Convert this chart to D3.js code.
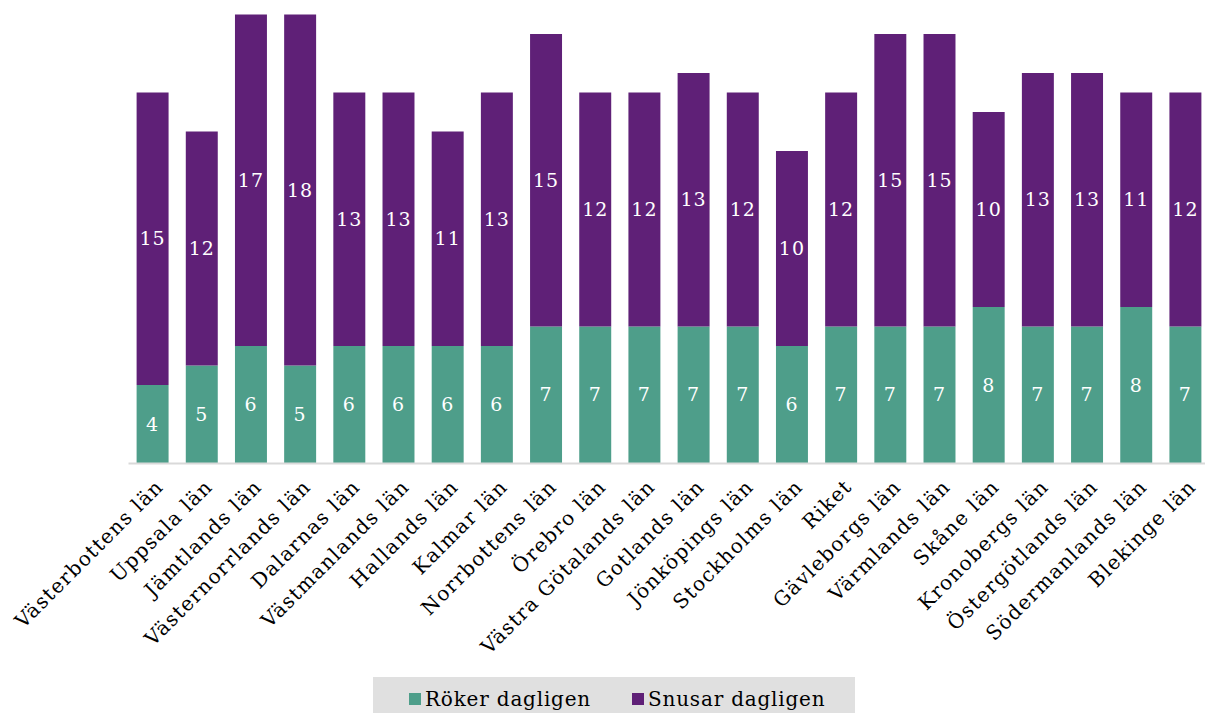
<!DOCTYPE html>
<meta charset="utf-8">
<style>
body { margin: 0; background: #fff; }
text { font-family: "DejaVu Serif", serif; }
</style>
<svg></svg>
<script src="https://d3js.org/d3.v7.min.js"></script>
<script>

var categories = ["Västerbottens län", "Uppsala län", "Jämtlands län", "Västernorrlands län",
  "Dalarnas län", "Västmanlands län", "Hallands län", "Kalmar län", "Norrbottens län",
  "Örebro län", "Västra Götalands län", "Gotlands län", "Jönköpings län", "Stockholms län",
  "Riket", "Gävleborgs län", "Värmlands län", "Skåne län", "Kronobergs län",
  "Östergötlands län", "Södermanlands län", "Blekinge län"];

var roker = [4, 5, 6, 5, 6, 6, 6, 6, 7, 7, 7, 7, 7, 6, 7, 7, 7, 8, 7, 7, 8, 7];
var snusar = [15, 12, 17, 18, 13, 13, 11, 13, 15, 12, 12, 13, 12, 10, 12, 15, 15, 10, 13, 13, 11, 12];

var seriesNames = ["Röker dagligen", "Snusar dagligen"];
var colors = ["#4e9e8a", "#5f2077"];

var width = 1205, height = 713;

var svg = d3.select("svg")
    .attr("width", width)
    .attr("height", height);

var rows = categories.map(function(c, i) {
  return {cat: c, s0: roker[i], s1: snusar[i]};
});

var stack = d3.stack().keys(["s0", "s1"])(rows);

var x = d3.scaleBand()
    .domain(categories)
    .range([128, 1210])
    .paddingInner(0.35)
    .paddingOuter(0.175);

var y = d3.scaleLinear()
    .domain([0, 24])
    .range([463, 463 - 24 * 19.5]);

var layers = svg.selectAll("g.layer")
    .data(stack)
  .enter().append("g")
    .attr("class", "layer")
    .attr("fill", function(d, i) { return colors[i]; });

layers.selectAll("rect")
    .data(function(d) { return d; })
  .enter().append("rect")
    .attr("x", function(d) { return x(d.data.cat); })
    .attr("y", function(d) { return y(d[1]); })
    .attr("width", x.bandwidth())
    .attr("height", function(d) { return y(d[0]) - y(d[1]); });

layers.selectAll("text")
    .data(function(d) { return d; })
  .enter().append("text")
    .attr("x", function(d) { return x(d.data.cat) + x.bandwidth() / 2; })
    .attr("y", function(d) { return (y(d[0]) + y(d[1])) / 2; })
    .attr("dy", "0.35em")
    .attr("text-anchor", "middle")
    .attr("fill", "#fff")
    .style("font-size", "19px")
    .style("letter-spacing", "1px")
    .text(function(d) { return d[1] - d[0]; });

// x axis
var xAxis = svg.append("g")
    .attr("transform", "translate(0," + y(0) + ")")
    .call(d3.axisBottom(x).tickSize(0).tickPadding(0));

xAxis.select(".domain")
    .attr("stroke", "#d9d9d9")
    .attr("stroke-width", 2);

xAxis.selectAll(".tick text")
    .attr("text-anchor", "end")
    .attr("fill", "#000")
    .style("font-size", "20px")
    .style("letter-spacing", "1.3px")
    .style("font-family", "'DejaVu Serif', serif")
    .attr("transform", "translate(7,20) rotate(-45)")
    .attr("dy", "0.35em")
    .attr("y", 0);

// legend
var legend = svg.append("g");

legend.append("rect")
    .attr("x", 373)
    .attr("y", 677)
    .attr("width", 482)
    .attr("height", 36)
    .attr("fill", "#e0e0e0");

var legendX = [409, 632];

var item = legend.selectAll("g.item")
    .data(seriesNames)
  .enter().append("g")
    .attr("class", "item")
    .attr("transform", function(d, i) { return "translate(" + legendX[i] + ",693)"; });

item.append("rect")
    .attr("width", 12)
    .attr("height", 12)
    .attr("fill", function(d, i) { return colors[i]; });

item.append("text")
    .attr("x", 16)
    .attr("y", 6)
    .attr("dy", "0.35em")
    .style("font-size", "20px")
    .style("letter-spacing", "0.8px")
    .attr("fill", "#000")
    .text(function(d) { return d; });

</script>
